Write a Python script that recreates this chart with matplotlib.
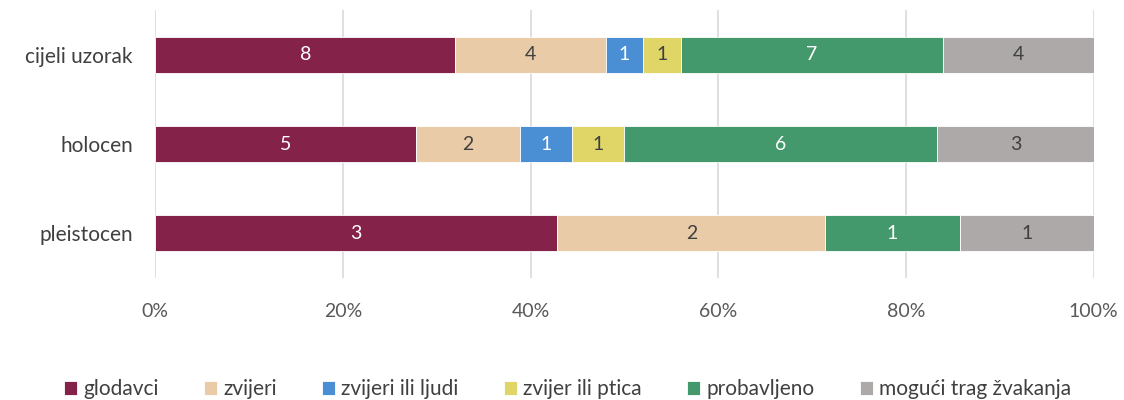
import numpy as np
import matplotlib.pyplot as plt

plt.rcParams['font.family'] = ['Lato', 'DejaVu Sans']

categories = ["pleistocen", "holocen", "cijeli uzorak"]
series = ["glodavci", "zvijeri", "zvijeri ili ljudi", "zvijer ili ptica", "probavljeno", "mogući trag žvakanja"]
glodavci = [3, 5, 8]
zvijeri = [2, 2, 4]
zvijeri_ljudi = [0, 1, 1]
zvijer_ptica = [0, 1, 1]
probavljeno = [1, 6, 7]
trag = [1, 3, 4]
colors = ["#85224A", "#EACBA7", "#4A8FD4", "#E0D668", "#43986C", "#ADA9A8"]
label_colors = ["white", "#404040", "white", "#404040", "white", "#404040"]

data = np.array([glodavci, zvijeri, zvijeri_ljudi, zvijer_ptica, probavljeno, trag], dtype=float)
totals = data.sum(axis=0)
shares = data / totals * 100

fig = plt.figure(figsize=(11.24, 4.0), dpi=100)
ax = fig.add_axes([0.138, 0.305, 0.835, 0.67])
y = np.arange(len(categories))
left = np.zeros(len(categories))
for i, name in enumerate(series):
    bars = ax.barh(y, shares[i], left=left, height=0.4, color=colors[i], label=name,
                   edgecolor="white", linewidth=0.6, zorder=3)
    for j, b in enumerate(bars):
        if data[i, j] > 0:
            ax.text(left[j] + shares[i, j] / 2, y[j], f"{int(data[i, j])}", ha="center", va="center",
                    color=label_colors[i], fontsize=14, zorder=4)
    left += shares[i]

ax.set_xlim(0, 100)
ax.set_ylim(-0.5, 2.5)
ax.set_yticks(y)
ax.set_yticklabels(categories, fontsize=15, color="#404040")
ax.set_xticks(np.arange(0, 101, 20))
ax.set_xticklabels([f"{v}%" for v in range(0, 101, 20)], fontsize=14, color="#595959")
ax.tick_params(axis="x", length=0, pad=18)
ax.tick_params(axis="y", length=0, pad=16)
ax.grid(axis="x", color="#D9D9D9", linewidth=1.2, zorder=0)
for s in ax.spines.values():
    s.set_visible(False)

fig.legend(loc="lower center", bbox_to_anchor=(0.505, -0.045), ncol=6, frameon=False,
           fontsize=15, handlelength=0.6, handleheight=0.6, handletextpad=0.3, columnspacing=2.2,
           labelcolor="#404040")

fig.savefig("out.png", dpi=100)
